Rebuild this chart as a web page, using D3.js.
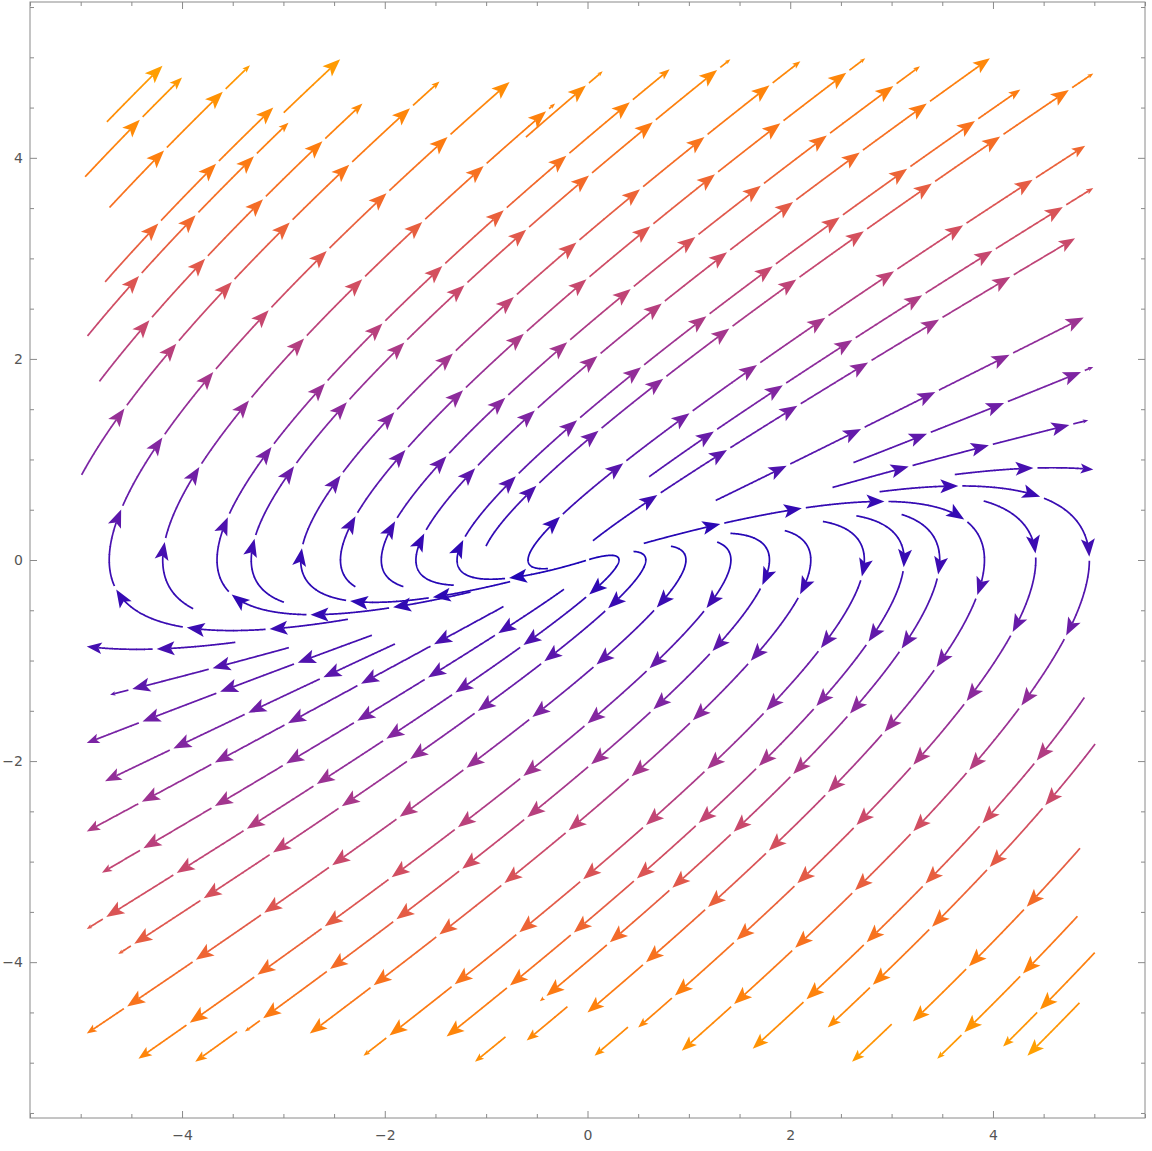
<!DOCTYPE html>
<html><head><meta charset="utf-8">
<script src="https://cdn.jsdelivr.net/npm/d3@7"></script>
<style>body{margin:0;background:#fff}</style>
</head><body>
<svg id="chart" width="1152" height="1151"></svg>
<script>
// Linear vector field:
// dx/dt = fieldX[0]*x + fieldX[1]*y ; dy/dt = fieldY[0]*x + fieldY[1]*y
const fieldX = [0, 1.17];
const fieldY = [-0.2, 1.0];
const plotRange = [-5, 5];
const xTicks = [-4, -2, 0, 2, 4];
const yTicks = [-4, -2, 0, 2, 4];
const speedStops = [0, 0.1, 0.2, 0.3, 0.4, 0.5, 0.6, 0.7, 0.8, 0.9, 1.0];
const colorStops = ["#1a04b6","#3c0cb2","#6219aa","#8427a0","#a3368e","#c44672","#de5650","#f36a2a","#fd7c10","#ff8f04","#ffa500"];

// streamlines flowing toward the upper right: start (tail) and end (head) points
const upTails = [
 [-4.74,4.36],[-4.94,3.80],[-4.69,3.48],[-2.99,4.44],[-4.74,2.75],[-4.91,2.21],[-4.79,1.76],[-4.94,0.82],
 [-2.37,-0.55],[-3.87,-0.45],[-0.59,4.19],[-1.16,-0.30],[-2.97,-0.35],[-0.76,-0.22],[-2.26,-0.22],[-1.80,-0.22],
 [-1.32,-0.22],[0.02,-0.02],[-0.86,0.07],[-0.40,0.05],[0.68,0.73],[0.12,0.11],[1.31,0.50],[2.66,0.88],[2.44,0.64],[3.63,0.78]
];
const upHeads = [
 [-4.17,4.94],[-4.00,4.80],[-3.33,4.92],[-2.44,4.98],[-3.10,4.50],[-2.95,4.35],[-2.22,4.54],[-1.46,4.76],
 [-0.74,4.78],[-0.32,4.54],[0.15,4.86],[0.81,4.88],[1.41,4.98],[2.10,4.96],[2.74,4.99],[3.28,4.91],
 [3.97,4.99],[4.27,4.68],[4.99,4.84],[4.91,4.12],[4.99,3.70],[4.81,3.20],[4.93,2.43],[4.99,1.92],[4.94,1.39],[4.99,0.90]
];
// streamlines flowing toward the lower left
const downTails = [
 [4.84,-4.39],[4.99,-3.89],[4.83,-3.54],[4.84,-2.85],[3.00,-4.62],[4.99,-1.82],[4.89,-1.36],
 [2.89,0.60],[3.89,0.53],[0.57,0.12],[3.08,0.40],[0.40,-4.65],[-0.20,-4.44],[-0.81,-4.74],
 [2.64,0.38],[2.31,0.31],[1.93,0.23],[1.41,0.22],[-3.46,-4.69],[1.24,0.07],[0.81,0.05],[0.45,0.00],
 [-0.07,-0.09],[-0.17,-0.38],[-0.90,-0.33],[-1.85,-0.94],[-2.15,-0.69],[-2.96,-0.82],[-3.48,-0.77]
];
const downHeads = [
 [4.34,-4.93],[4.10,-4.84],[3.45,-4.96],[3.21,-4.59],[2.61,-4.99],[2.37,-4.65],[1.63,-4.86],
 [0.93,-4.88],[0.50,-4.65],[0.00,-4.50],[-0.47,-4.39],[0.07,-4.93],[-0.60,-4.78],[-1.11,-4.99],
 [-1.39,-4.74],[-2.21,-4.93],[-2.74,-4.71],[-3.38,-4.69],[-3.87,-4.99],[-4.43,-4.96],[-4.94,-4.71],[-4.63,-3.92],
 [-4.94,-3.67],[-4.79,-3.11],[-4.94,-2.70],[-4.76,-2.20],[-4.94,-1.82],[-4.71,-1.34],[-4.94,-0.86]
];

const svg = d3.select("#chart");
const x = d3.scaleLinear().domain([-5.5, 5.5]).range([30, 1145]);
const y = d3.scaleLinear().domain([-5.55, 5.55]).range([1118, 2]);

function F(p){ return [fieldX[0]*p[0] + fieldX[1]*p[1], fieldY[0]*p[0] + fieldY[1]*p[1]]; }
function speed(p){ const v = F(p); return Math.hypot(v[0], v[1]); }
const corners = [[plotRange[0],plotRange[0]],[plotRange[0],plotRange[1]],[plotRange[1],plotRange[0]],[plotRange[1],plotRange[1]]];
const maxSpeed = d3.max(corners, speed);
const color = d3.scaleLinear().domain(speedStops).range(colorStops).interpolate(d3.interpolateRgb).clamp(true);

function dir(p, sgn){
  const v = F(p); const m = Math.hypot(v[0], v[1]);
  if (m < 1e-12) return null;
  return [sgn*v[0]/m, sgn*v[1]/m];
}
// trace backward from head; keep the part up to the closest approach to the tail
function trace(head, tail){
  const h = 0.005; let p = head.slice(); const pts = [p.slice()];
  let best = Math.hypot(p[0]-tail[0], p[1]-tail[1]), bestI = 0;
  for (let i = 0; i < 14000; i++){
    const k1 = dir(p,-1); if(!k1) break;
    const k2 = dir([p[0]+h/2*k1[0], p[1]+h/2*k1[1]],-1); if(!k2) break;
    const k3 = dir([p[0]+h/2*k2[0], p[1]+h/2*k2[1]],-1); if(!k3) break;
    const k4 = dir([p[0]+h*k3[0], p[1]+h*k3[1]],-1); if(!k4) break;
    p = [p[0] + h/6*(k1[0]+2*k2[0]+2*k3[0]+k4[0]), p[1] + h/6*(k1[1]+2*k2[1]+2*k3[1]+k4[1])];
    if (Math.abs(p[0]) > 5.03 || Math.abs(p[1]) > 5.03) break;
    if (Math.hypot(p[0], p[1]) < 0.012) break;
    pts.push(p.slice());
    const d = Math.hypot(p[0]-tail[0], p[1]-tail[1]);
    if (d < best){ best = d; bestI = pts.length-1; }
  }
  return pts.slice(0, bestI+1).reverse();
}

const S = 79, P = 83, PIECE = 8;
const AL = 18, AW = 7, NOTCH = 4;
const gLines = svg.append("g").attr("fill","none").attr("stroke-width",1.7).attr("stroke-linecap","butt");
const gArrows = svg.append("g");
const lineGen = d3.line();

function drawStream(pts){
  const px = pts.map(p => [x(p[0]), y(p[1])]);
  const cum = [0];
  for (let i = 1; i < px.length; i++) cum.push(cum[i-1] + Math.hypot(px[i][0]-px[i-1][0], px[i][1]-px[i-1][1]));
  const total = cum[cum.length-1];
  if (total < 3) return;
  const at = s => {
    let lo = 0, hi = cum.length-1;
    while (hi - lo > 1){ const m = (lo+hi) >> 1; if (cum[m] <= s) lo = m; else hi = m; }
    const dd = cum[hi]-cum[lo]; const f = dd > 0 ? Math.max(0, Math.min(1, (s-cum[lo])/dd)) : 0;
    return { px: [px[lo][0]+f*(px[hi][0]-px[lo][0]), px[lo][1]+f*(px[hi][1]-px[lo][1])],
             d: [pts[lo][0]+f*(pts[hi][0]-pts[lo][0]), pts[lo][1]+f*(pts[hi][1]-pts[lo][1])], lo, hi };
  };
  for (let k = 0; k*P < total - 3; k++){
    const a = k*P, b = Math.min(k*P + S, total);
    const len = b - a;
    const sc = Math.max(0.3, Math.min(1, len / S));
    const lineEnd = b - (AL - NOTCH) * sc;
    for (let s0 = a; s0 < lineEnd - 0.2; s0 += PIECE){
      const s1 = Math.min(s0 + PIECE + 0.6, lineEnd);
      const A = at(s0), B = at(s1);
      const arr = [A.px];
      for (let i = A.hi; i <= B.lo; i++) if (cum[i] > s0 && cum[i] < s1) arr.push(px[i]);
      arr.push(B.px);
      const mid = at((s0+s1)/2).d;
      gLines.append("path").attr("d", lineGen(arr)).attr("stroke", color(speed(mid)/maxSpeed));
    }
    const tip = at(b), bk = at(Math.max(a, b - 6));
    let ux = tip.px[0]-bk.px[0], uy = tip.px[1]-bk.px[1];
    const m = Math.hypot(ux, uy) || 1; ux /= m; uy /= m;
    const nx = -uy, ny = ux;
    const T = tip.px, al = AL*sc, aw = AW*sc, no = NOTCH*sc;
    const poly = [T,
      [T[0]-al*ux+aw*nx, T[1]-al*uy+aw*ny],
      [T[0]-(al-no)*ux, T[1]-(al-no)*uy],
      [T[0]-al*ux-aw*nx, T[1]-al*uy-aw*ny]];
    gArrows.append("path").attr("d", lineGen(poly) + "Z").attr("fill", color(speed(tip.d)/maxSpeed));
  }
}

upHeads.forEach((h, i) => drawStream(trace(h, upTails[i])));
downHeads.forEach((h, i) => drawStream(trace(h, downTails[i])));

// frame and ticks
const frameColor = "#8a8a8a";
const minor = d3.range(-5.5, 5.51, 0.5).filter(v => Math.abs(v % 2) > 1e-9);
function styleAxis(g){
  g.select(".domain").remove();
  g.selectAll("line").attr("stroke", frameColor);
  g.selectAll("text").attr("fill", "#555").attr("font-size", 14).attr("font-family", "DejaVu Sans, sans-serif");
}
const fmt = d3.format("d");
svg.append("g").attr("transform","translate(0,1118)").call(d3.axisBottom(x).tickValues(xTicks).tickSize(-7).tickPadding(12).tickFormat(fmt)).call(styleAxis);
svg.append("g").attr("transform","translate(0,1118)").call(d3.axisBottom(x).tickValues(minor).tickSize(-4).tickFormat("")).call(styleAxis);
svg.append("g").attr("transform","translate(0,2)").call(d3.axisTop(x).tickValues(xTicks).tickSize(-7).tickFormat("")).call(styleAxis);
svg.append("g").attr("transform","translate(0,2)").call(d3.axisTop(x).tickValues(minor).tickSize(-4).tickFormat("")).call(styleAxis);
svg.append("g").attr("transform","translate(30,0)").call(d3.axisLeft(y).tickValues(yTicks).tickSize(-7).tickPadding(7).tickFormat(fmt)).call(styleAxis);
svg.append("g").attr("transform","translate(30,0)").call(d3.axisLeft(y).tickValues(minor).tickSize(-4).tickFormat("")).call(styleAxis);
svg.append("g").attr("transform","translate(1145,0)").call(d3.axisRight(y).tickValues(yTicks).tickSize(-7).tickFormat("")).call(styleAxis);
svg.append("g").attr("transform","translate(1145,0)").call(d3.axisRight(y).tickValues(minor).tickSize(-4).tickFormat("")).call(styleAxis);
svg.append("rect").attr("x", x(-5.5)).attr("y", y(5.55)).attr("width", x(5.5)-x(-5.5)).attr("height", y(-5.55)-y(5.55))
  .attr("fill","none").attr("stroke", frameColor).attr("stroke-width", 1);
</script>
</body></html>
